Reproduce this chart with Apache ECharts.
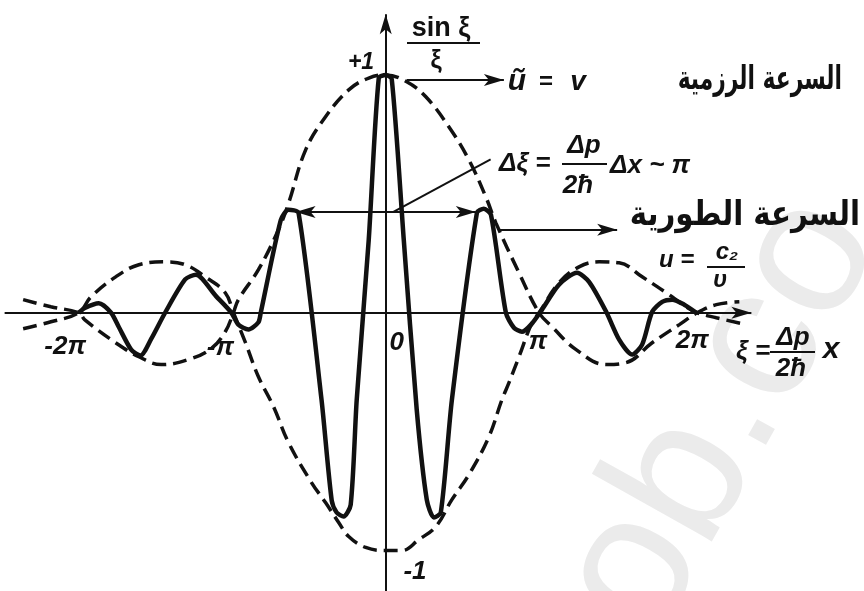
<!DOCTYPE html>
<html lang="ar">
<head>
<meta charset="UTF-8">
<title>Wave packet sin ξ / ξ</title>
<script src="https://cdn.jsdelivr.net/npm/echarts@6/dist/echarts.min.js"></script>
<style>
  html, body { margin: 0; padding: 0; background: #fff; }
  #chart { width: 864px; height: 591px; }
</style>
</head>
<body>
<div id="chart"></div>
<script>
const envelopeUpper = [
  [-2.35, 0.055], [-2.17, 0.025], [-1.99, 0], [-1.95, -0.03], [-1.75, -0.126], [-1.60, -0.185],
  [-1.455, -0.218], [-1.28, -0.197], [-1.13, -0.15], [-1.04, -0.08], [-0.987, 0], [-0.955, 0.055],
  [-0.825, 0.181], [-0.695, 0.349], [-0.63, 0.46], [-0.519, 0.685], [-0.39, 0.824], [-0.24, 0.937],
  [-0.11, 0.987], [0, 1.0], [0.136, 0.971], [0.26, 0.908], [0.409, 0.782], [0.539, 0.643],
  [0.649, 0.487], [0.714, 0.378], [0.864, 0.168], [0.994, 0], [1.078, -0.059], [1.234, -0.155],
  [1.429, -0.218], [1.558, -0.21], [1.727, -0.126], [1.903, -0.05], [2.019, 0], [2.143, 0.034],
  [2.292, 0.046]
];
const envelopeLower = [
  [-2.35, -0.067], [-2.17, -0.038], [-1.99, 0], [-1.91, 0.067], [-1.75, 0.151], [-1.60, 0.202],
  [-1.429, 0.214], [-1.30, 0.202], [-1.17, 0.151], [-1.04, 0.084], [-0.987, 0], [-0.909, -0.126],
  [-0.825, -0.269], [-0.727, -0.395], [-0.63, -0.546], [-0.481, -0.714], [-0.39, -0.798],
  [-0.305, -0.882], [-0.24, -0.941], [-0.13, -0.987], [0, -1.0], [0.104, -1.0], [0.214, -0.954],
  [0.325, -0.899], [0.429, -0.786], [0.539, -0.681], [0.669, -0.521], [0.753, -0.366],
  [0.799, -0.294], [0.864, -0.185], [0.948, -0.042], [0.994, 0], [1.123, 0.126], [1.253, 0.193],
  [1.383, 0.214], [1.513, 0.21], [1.662, 0.151], [1.818, 0.084], [1.948, 0.025], [2.019, 0],
  [2.143, -0.021], [2.338, -0.05]
];
const packet = [
  [-1.99, 0], [-1.95, 0.02], [-1.86, 0.04], [-1.78, 0], [-1.73, -0.06], [-1.65, -0.155],
  [-1.59, -0.18], [-1.52, -0.11], [-1.43, 0], [-1.30, 0.14], [-1.23, 0.16], [-1.10, 0.07],
  [-1.00, 0], [-0.955, -0.05], [-0.89, -0.07], [-0.825, -0.04], [-0.81, 0], [-0.68, 0.39],
  [-0.63, 0.433], [-0.565, 0.42], [-0.416, -0.366], [-0.35, -0.79], [-0.318, -0.84],
  [-0.273, -0.857], [-0.227, -0.807], [-0.188, -0.366], [-0.11, 0.307], [-0.045, 0.987],
  [0, 1.0], [0.039, 0.983], [0.117, 0.307], [0.201, -0.408], [0.266, -0.786], [0.312, -0.861],
  [0.357, -0.84], [0.429, -0.366], [0.591, 0.42], [0.636, 0.437], [0.682, 0.412], [0.779, 0],
  [0.831, -0.063], [0.883, -0.08], [0.942, -0.05], [1.013, 0.013], [1.123, 0.118], [1.24, 0.168],
  [1.318, 0.13], [1.429, 0.004], [1.513, -0.113], [1.597, -0.176], [1.662, -0.134], [1.727, 0.004],
  [1.792, 0.046], [1.857, 0.055], [1.935, 0.034], [2.013, 0]
];
const tickValues = [-2, -1, 0, 1, 2];
const tickLabels = ['-2π', '-π', '0', 'π', '2π'];

var chart = echarts.init(document.getElementById('chart'));
const ink = '#111';
const dashed = { color: ink, width: 3.5, type: [14, 7], cap: 'butt' };
const mathFont = 'italic bold 26px "Liberation Sans"';
const smallMath = 'italic bold 24px "Liberation Sans"';

chart.setOption({
  animation: false,
  grid: { left: 0, right: 0, top: 0, bottom: 0 },
  xAxis: { type: 'value', min: -2.5, max: 3.1, show: false },
  yAxis: { type: 'value', min: -1.17, max: 1.315, show: false },
  series: [
    { type: 'line', data: envelopeUpper, smooth: 0.4, showSymbol: false, silent: true, lineStyle: dashed },
    { type: 'line', data: envelopeLower, smooth: 0.4, showSymbol: false, silent: true, lineStyle: dashed },
    {
      type: 'line', data: packet, smooth: 0.25, showSymbol: false, silent: true,
      lineStyle: { color: ink, width: 4.5, join: 'round' },
      markLine: {
        silent: true,
        symbol: ['none', 'arrow'],
        symbolSize: [9, 20],
        label: { show: false },
        lineStyle: { color: ink, width: 2, type: 'solid' },
        emphasis: { disabled: true },
        data: [
          [{ coord: [-2.47, 0] }, { coord: [2.37, 0] }],
          [{ coord: [0, -1.17] }, { coord: [0, 1.255] }],
          [{ coord: [-0.584, 0.424], symbol: 'arrow' }, { coord: [0.584, 0.424] }],
          [{ coord: [0.05, 0.424] }, { coord: [0.68, 0.645], symbol: 'none' }],
          [{ coord: [0.136, 0.979] }, { coord: [0.766, 0.979] }],
          [{ coord: [0.734, 0.349] }, { coord: [1.5, 0.349] }]
        ]
      }
    }
  ]
});

function txt(x, y, s, font, align, extra) {
  var el = {
    type: 'text', x: x, y: y, silent: true,
    style: { text: s, font: font, fill: ink, align: align || 'center', verticalAlign: 'middle' }
  };
  return Object.assign(el, extra || {});
}
function bar(x1, x2, y) {
  return { type: 'line', silent: true, shape: { x1: x1, y1: y, x2: x2, y2: y }, style: { stroke: ink, lineWidth: 2 } };
}

// tick labels sit below and slightly left of their points
const tickShift = [[-12, 34], [-11, 35], [11, 30], [-2, 29], [-2, 28]];
const tickGraphics = tickValues.map(function (v, i) {
  const p = chart.convertToPixel({ gridIndex: 0 }, [v, 0]);
  return txt(p[0] + tickShift[i][0], p[1] + tickShift[i][1], tickLabels[i], mathFont);
});

chart.setOption({
  graphic: [
    {
      type: 'text', x: 722, y: 416, rotation: 1.06, z: -10, silent: true,
      style: { text: 'ob.co', font: '190px "Liberation Sans"', fill: '#ebebeb', align: 'center', verticalAlign: 'middle' }
    },
    // ordinate label sinξ / ξ
    txt(441, 29, 'sin ξ', 'bold 27px "Liberation Sans"'),
    bar(407, 480, 43),
    txt(436, 61, 'ξ', 'bold 25px "Liberation Sans"'),
    txt(361, 63, '+1', 'italic bold 23px "Liberation Sans"'),
    txt(415, 572, '-1', mathFont),
    // group velocity
    txt(517, 82, 'ũ', 'italic bold 30px "Liberation Sans"'),
    txt(546, 82, '=', 'bold 24px "Liberation Sans"'),
    txt(578, 82, 'v', 'italic bold 28px "Liberation Sans"'),
    txt(842, 80, 'السرعة الرزمية', 'bold 33px "DejaVu Sans"', 'right', { scaleX: 0.66 }),
    // Δξ = Δp/2ħ Δx ~ π
    txt(499, 164, 'Δξ =', mathFont, 'left'),
    txt(584, 146, 'Δp', mathFont),
    bar(562, 607, 164),
    txt(578, 186, '2ħ', mathFont),
    txt(610, 166, 'Δx ~ π', mathFont, 'left'),
    // phase velocity
    txt(860, 216, 'السرعة الطورية', 'bold 34px "DejaVu Sans"', 'right', { scaleX: 0.86 }),
    txt(659, 260, 'u =', smallMath, 'left'),
    txt(727, 252, 'c₂', smallMath),
    bar(707, 745, 267),
    txt(720, 280, 'υ', smallMath),
    // abscissa label ξ = Δp/2ħ x
    txt(736, 352, 'ξ =', mathFont, 'left'),
    txt(793, 338, 'Δp', mathFont),
    bar(770, 815, 352),
    txt(791, 369, '2ħ', mathFont),
    txt(831, 350, 'x', 'italic bold 30px "Liberation Sans"')
  ].concat(tickGraphics)
});
</script>
</body>
</html>
